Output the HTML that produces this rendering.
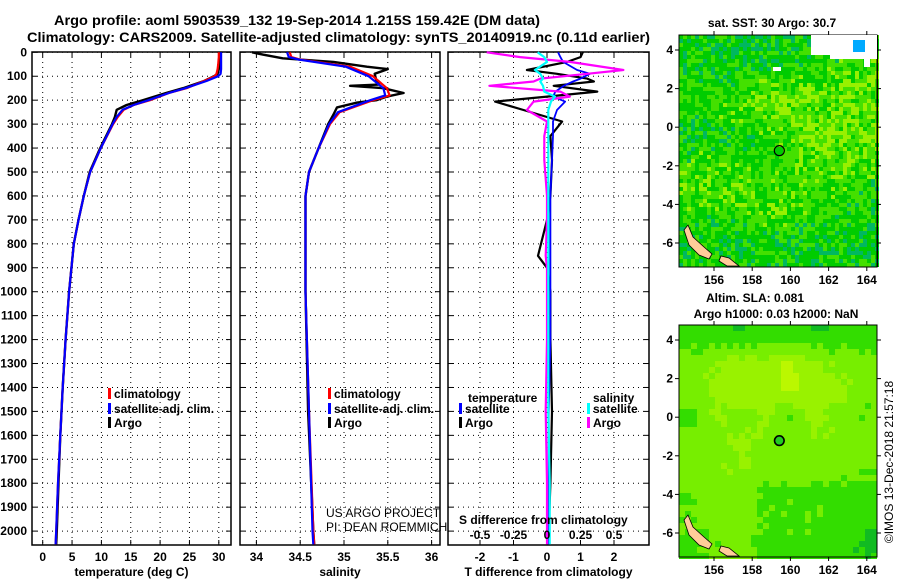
<!DOCTYPE html>
<html><head><meta charset="utf-8"><style>
html,body{margin:0;padding:0;background:#fff;}
svg{display:block;font-family:"Liberation Sans",sans-serif;}
</style></head><body>
<svg id="c" width="900" height="580" viewBox="0 0 900 580" xmlns="http://www.w3.org/2000/svg">
<text x="54" y="25" font-size="14" font-weight="bold" textLength="486" lengthAdjust="spacingAndGlyphs">Argo profile: aoml 5903539_132 19-Sep-2014 1.215S 159.42E (DM data)</text>
<text x="27" y="42" font-size="14" font-weight="bold" textLength="623" lengthAdjust="spacingAndGlyphs">Climatology: CARS2009. Satellite-adjusted climatology: synTS_20140919.nc (0.11d earlier)</text>
<g id="panels"></g>
<g id="maps"></g>
<text transform="translate(893,462) rotate(-90)" text-anchor="middle" font-size="12">©IMOS 13-Dec-2018 21:57:18</text>
</svg>
<script>
// ---------- data ----------
const depthTicks=[0,100,200,300,400,500,600,700,800,900,1000,1100,1200,1300,1400,1500,1600,1700,1800,1900,2000];
const tempTicks=[0,5,10,15,20,25,30];
const salTicks=[34,34.5,35,35.5,36];
const salTickLabels=["34","34.5","35","35.5","36"];
const tdiffTicks=[-2,-1,0,1,2];
const sdiffTicks=[-0.5,-0.25,0,0.25,0.5];
const sdiffTickLabels=["-0.5","-0.25","0","0.25","0.5"];

const tDepth=[0,20,50,70,90,100,120,150,170,200,220,240,270,300,400,500,600,700,800,1000,1200,1400,1600,1800,2000,2055];
const argoT=[30.3,30.3,30.2,30.0,29.8,29.2,27.5,23.9,21,17.1,14.3,12.6,12.3,11.8,9.8,8.0,7.0,6.1,5.3,4.5,3.9,3.4,3.0,2.7,2.4,2.3];
const climT=[30.0,30.0,29.9,29.8,29.6,29.3,27.5,24.5,21.5,18.3,15.5,13.8,12.8,12.0,9.9,8.1,7.0,6.1,5.3,4.5,3.9,3.4,3.0,2.6,2.3,2.2];
const satT=[30.4,30.4,30.4,30.4,30.3,29.9,27.9,24.3,21.5,18.0,15.5,13.6,12.6,11.9,9.9,8.1,7.0,6.1,5.3,4.5,3.9,3.4,3.0,2.6,2.3,2.2];

const argoSDepth=[0,10,25,40,60,70,90,120,135,140,150,170,185,200,210,230,260,300,400,500,600,1000,1500,2000,2055];
const argoS=[33.95,34.08,34.3,34.88,35.26,35.5,35.35,35.37,35.4,35.07,35.45,35.68,35.49,35.37,35.15,34.92,34.88,34.82,34.71,34.6,34.56,34.56,34.59,34.65,34.66];
const climSDepth=[0,20,30,60,100,150,180,200,250,300,400,500,600,1000,1500,2000,2055];
const climS=[34.38,34.4,34.5,35.07,35.33,35.49,35.52,35.33,34.95,34.84,34.71,34.6,34.56,34.56,34.6,34.65,34.66];
const satS=[34.35,34.37,34.48,35.02,35.28,35.45,35.47,35.30,34.93,34.83,34.71,34.6,34.56,34.56,34.6,34.64,34.65];

const dDepth=[0,20,40,74,90,110,122,140,164,185,206,241,289,350,450,600,700,850,900,1000,1200,1500,1800,2000,2055];
const dTargo=[1.07,1.0,0.6,-0.6,0.3,1.2,1.4,0.2,1.5,0.0,-1.55,-0.7,0.45,0.1,0.15,0.1,0.0,-0.27,0.0,0.1,0.1,0.15,0.1,0.05,0.05];
const dTsat=[0.33,0.4,0.48,0.9,1.28,1.0,0.78,0.5,0.25,0.18,0.54,0.3,0.18,0.18,0.15,0.1,0.1,0.1,0.1,0.1,0.1,0.05,0.05,0.05,0.05];
const dSargo=[-0.45,-0.2,0.17,0.57,0.3,-0.05,-0.1,-0.43,0.1,0.17,-0.1,-0.15,0,-0.02,-0.02,0,0,-0.01,0,0,0,-0.01,0,0,0];
const dSsat=[-0.07,-0.02,0,-0.09,-0.05,-0.03,-0.05,-0.03,-0.02,0.06,0.03,0.01,0.01,0.01,0.01,0.01,0.01,0.01,0.01,0.01,0.01,0.01,0.02,0.02,0.02];

const lonTicks=[156,158,160,162,164];
const latTicks=[4,2,0,-2,-4,-6];
const argoLon=159.42, argoLat=-1.215;
// coarse SST warmth field (rows north->south, cols west->east)
const sstField=[
 [1.0,0.8,0.7,0.9,1.2,1.4],
 [1.2,1.2,1.4,1.5,1.8,2.0],
 [1.6,1.8,2.4,2.4,2.2,2.4],
 [1.2,1.2,1.3,2.0,2.4,2.4],
 [1.6,1.8,1.4,1.8,2.0,1.8],
 [1.8,2.2,1.8,1.8,1.6,1.4],
 [1.2,1.3,1.6,1.5,1.2,1.1],
 [1.1,1.1,1.2,1.0,1.0,0.9]];
// coarse SLA field
const slaField=[
 [1,1,0.6,1,1,0.5,1,1],
 [2,2.6,3,3,3.6,3,2,2],
 [2,2.6,3.4,2.8,3.8,3,3,2],
 [1.4,2.6,2,2.8,1.4,3,2,1.6],
 [2,2.2,2.8,2.2,2.2,2.4,2.2,2],
 [2.2,2.2,2.6,2.2,2,2,2,1.6],
 [1.6,2,2.2,1.2,1.2,1.2,1.2,1.2],
 [1.4,2,2.2,1.4,1.4,1.4,1.2,0.8],
 [1.2,1.6,2,1.2,1.2,1.2,1,0.4]];

// ---------- helpers ----------
const NS="http://www.w3.org/2000/svg";
function mk(tag,attrs,parent){const e=document.createElementNS(NS,tag);for(const k in attrs)e.setAttribute(k,attrs[k]);(parent||document.getElementById('c')).appendChild(e);return e;}
const yD=d=>52.3+d*0.2394;
const TOP=52,BOT=545;
const panels=document.getElementById('panels');

function panel(name,x0,x1,xs,ticks,labels,xlabel){
  const g=mk('g',{},panels);
  
  
  depthTicks.forEach(d=>{const y=yD(d);
    const l=mk('line',{x1:x0,x2:x1,y1:y,y2:y,stroke:'#000','stroke-width':1,'stroke-dasharray':'1,4'},g);
    
    mk('line',{x1:x0,x2:x0+5,y1:y,y2:y,stroke:'#000'},g);
    mk('line',{x1:x1-5,x2:x1,y1:y,y2:y,stroke:'#000'},g);
  });
  ticks.forEach((t,i)=>{const x=xs(t);
    const l=mk('line',{x1:x,x2:x,y1:TOP,y2:BOT,stroke:'#000','stroke-dasharray':'1,4'},g);
    
    mk('line',{x1:x,x2:x,y1:TOP,y2:TOP+5,stroke:'#000'},g);
    mk('line',{x1:x,x2:x,y1:BOT-5,y2:BOT,stroke:'#000'},g);
    if(labels){const tx=mk('text',{x:x,y:561,'text-anchor':'middle','font-size':12,'font-weight':'bold'},g);tx.textContent=labels[i];
      }
  });
  const r=mk('rect',{x:x0,y:TOP,width:x1-x0,height:BOT-TOP,fill:'none',stroke:'#000','stroke-width':1.5},g);
  
  const xl=mk('text',{x:(x0+x1)/2,y:576,'text-anchor':'middle','font-size':12,'font-weight':'bold'},g);
  xl.textContent=xlabel;
  return g;
}
function line(g,depths,vals,xs,color,name,w){
  const pts=depths.map((d,i)=>xs(vals[i]).toFixed(1)+','+yD(d).toFixed(1)).join(' ');
  const p=mk('polyline',{points:pts,fill:'none',stroke:color,'stroke-width':w||2.2,'stroke-linejoin':'round'},g);
  
}
function legend(g,x,y,color,label){
  const r=mk('rect',{x:x,y:y-9,width:3,height:11,fill:color},g);
  
  const t=mk('text',{x:x+6,y:y+1,'font-size':12,'font-weight':'bold'},g);t.textContent=label;
  
}

depthTicks.forEach(d=>{const t=mk('text',{x:27,y:yD(d)+4,'text-anchor':'end','font-size':12,'font-weight':'bold'},panels);
  t.textContent=d;});

const xT=t=>42.7+t*5.87;
const g1=panel('temperature-panel',32,231,xT,tempTicks,tempTicks.map(String),'temperature (deg C)');
line(g1,tDepth,argoT,xT,'#000','argo-temperature-line',2.4);
line(g1,tDepth,climT,xT,'#f00','climatology-temperature-line');
line(g1,tDepth,satT,xT,'#00f','satellite-temperature-line');
legend(g1,108,397,'#f00','climatology');legend(g1,108,412,'#00f','satellite-adj. clim.');legend(g1,108,426,'#000','Argo');

const xS=s=>256.4+(s-34)*87.6;
const g2=panel('salinity-panel',240,440,xS,salTicks,salTickLabels,'salinity');
line(g2,argoSDepth,argoS,xS,'#000','argo-salinity-line',2.4);
line(g2,climSDepth,climS,xS,'#f00','climatology-salinity-line');
line(g2,climSDepth,satS,xS,'#00f','satellite-salinity-line');
legend(g2,328,397,'#f00','climatology');legend(g2,328,412,'#00f','satellite-adj. clim.');legend(g2,328,426,'#000','Argo');
const us=mk('text',{x:326,y:517,'font-size':12},g2);us.textContent='US ARGO PROJECT';
const pi=mk('text',{x:326,y:531,'font-size':12},g2);pi.textContent='PI: DEAN ROEMMICH';

const xDT=t=>547+t*33.5;
const xDS=s=>547+s*134;
const g3=panel('difference-panel',448,649,xDT,tdiffTicks,tdiffTicks.map(String),'T difference from climatology');
line(g3,dDepth,dTargo,xDT,'#000','argo-t-difference-line',2.2);
line(g3,dDepth,dTsat,xDT,'#00f','satellite-t-difference-line',1.8);
line(g3,dDepth,dSargo,xDS,'#f0f','argo-s-difference-line',2.2);
line(g3,dDepth,dSsat,xDS,'#0ff','satellite-s-difference-line',2.2);
sdiffTicks.forEach((s,i)=>{const t=mk('text',{x:xDS(s),y:539,'text-anchor':'middle','font-size':12,'font-weight':'bold'},g3);
  t.textContent=sdiffTickLabels[i];});
const st=mk('text',{x:459,y:524,'font-size':12,'font-weight':'bold'},g3);st.textContent='S difference from climatology';

const lt=mk('text',{x:468,y:402,'font-size':12,'font-weight':'bold'},g3);lt.textContent='temperature';
const ls=mk('text',{x:593,y:402,'font-size':12,'font-weight':'bold'},g3);ls.textContent='salinity';
legend(g3,459,412,'#00f','satellite');legend(g3,459,426,'#000','Argo');
legend(g3,587,412,'#0ff','satellite');legend(g3,587,426,'#f0f','Argo');

// ---------- maps ----------
const maps=document.getElementById('maps');
const MX0=679,MX1=877;
const lonX=l=>714+(l-156)*19.1;
function hash(i,j,s){let h=(i*374761393+j*668265263+s*982451653)|0;h=(h^(h>>>13))*1274126177|0;return ((h^(h>>>16))>>>0)/4294967296;}
function sample(field,u,v){
  const rows=field.length,cols=field[0].length;
  const fy=Math.max(0,Math.min(rows-1,v*rows-0.5)), fx=Math.max(0,Math.min(cols-1,u*cols-0.5));
  const r0=Math.floor(fy),c0=Math.floor(fx),r1=Math.min(rows-1,r0+1),c1=Math.min(cols-1,c0+1);
  const ty=fy-r0,tx=fx-c0;
  return (field[r0][c0]*(1-tx)+field[r0][c1]*tx)*(1-ty)+(field[r1][c0]*(1-tx)+field[r1][c1]*tx)*ty;
}
function drawMap(g,top,bot,field,palette,cell,seed,noiseAmp){
  const latY=l=>top+15+(4-l)*19.3;
  const W=MX1-MX0,H=bot-top;
  const cg=mk('g',{'shape-rendering':'crispEdges'},g);
  for(let y=0;y<H;y+=cell)for(let x=0;x<W;x+=cell){
    let v=sample(field,(x+cell/2)/W,(y+cell/2)/H)+(hash(x,y,seed)-0.5)*noiseAmp;
    v=Math.max(0,Math.min(palette.length-1,Math.round(v)));
    mk('rect',{x:MX0+x,y:top+y,width:cell,height:cell,fill:palette[v]},cg);
  }
  const land=mk('path',{d:`M${MX0+5},${bot-37} L${MX0+9},${bot-42} L${MX0+14},${bot-30} L${MX0+25},${bot-20} L${MX0+33},${bot-13} L${MX0+30},${bot-8} L${MX0+20},${bot-12} L${MX0+10},${bot-22} Z M${MX0+42},${bot-11} L${MX0+50},${bot-9} L${MX0+60},${bot-1} L${MX0+48},${bot-1} L${MX0+40},${bot-6} Z`,fill:'#ffcc99',stroke:'#000','stroke-width':0.8},g);
  
  const ci=mk('circle',{cx:lonX(argoLon),cy:latY(argoLat),r:5,fill:'none',stroke:'#000','stroke-width':1.2},g);
  
  const fr=mk('rect',{x:MX0,y:top,width:W,height:H,fill:'none',stroke:'#000','stroke-width':1},g);
  
  lonTicks.forEach(l=>{const x=lonX(l);
    mk('line',{x1:x,x2:x,y1:top-4,y2:top,stroke:'#000'},g);mk('line',{x1:x,x2:x,y1:bot,y2:bot+4,stroke:'#000'},g);
    const t=mk('text',{x:x,y:bot+17,'text-anchor':'middle','font-size':12,'font-weight':'bold'},g);t.textContent=l;
    });
  latTicks.forEach(l=>{const y=latY(l);
    mk('line',{x1:MX0-4,x2:MX0,y1:y,y2:y,stroke:'#000'},g);mk('line',{x1:MX1,x2:MX1+4,y1:y,y2:y,stroke:'#000'},g);
    const t=mk('text',{x:673,y:y+4,'text-anchor':'end','font-size':12,'font-weight':'bold'},g);t.textContent=l;
    });
  return latY;
}
const sstPal=['#00b860','#00cc00','#44e000','#99f000','#ccf000','#ffcc00'];
const slaPal=['#11bb22','#33dd00','#77ee00','#99f200','#bbf700'];
const m1=mk('g',{},maps);
drawMap(m1,35,267,sstField,sstPal,4,1,2.2);
const wp=mk('path',{d:'M811,35 L877,35 L877,59 L870,59 L870,67 L864,67 L864,59 L830,59 L830,55 L811,55 Z',fill:'#fff'},m1);

const bp=mk('rect',{x:853,y:40,width:12,height:12,fill:'#00aaff'},m1);
mk('rect',{x:773,y:67,width:8,height:4,fill:'#fff'},m1);
mk('rect',{x:877,y:35,width:1,height:232,fill:'#000'},m1);
const t1=mk('text',{x:772,y:27,'text-anchor':'middle','font-size':12,'font-weight':'bold'},m1);t1.textContent='sat. SST: 30 Argo: 30.7';


const m2=mk('g',{},maps);
drawMap(m2,325,557,slaField,slaPal,6,7,0.5);
const c2=mk('circle',{cx:lonX(argoLon),cy:325+15+(4-argoLat)*19.3,r:4.5,fill:'#22cc22',stroke:'#000'},m2);

const t2=mk('text',{x:755,y:302,'text-anchor':'middle','font-size':12,'font-weight':'bold'},m2);t2.textContent='Altim. SLA: 0.081';

const t3=mk('text',{x:776,y:318,'text-anchor':'middle','font-size':12,'font-weight':'bold'},m2);t3.textContent='Argo h1000: 0.03 h2000: NaN';

</script>
</body></html>
